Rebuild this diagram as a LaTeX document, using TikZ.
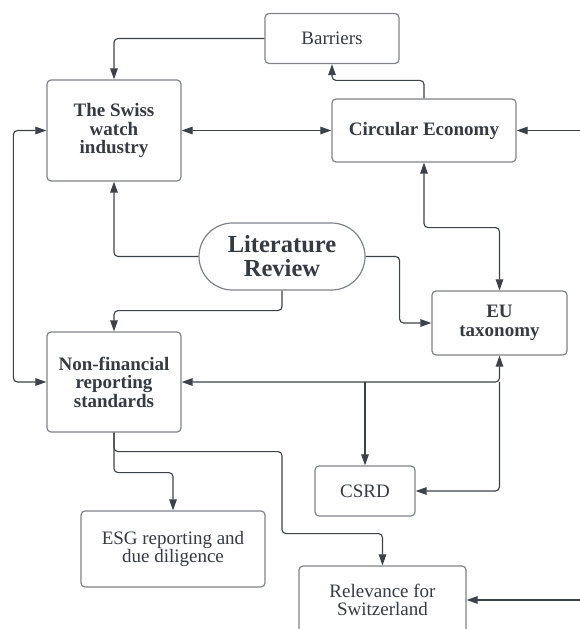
\documentclass[tikz,border=0pt]{standalone}
\usepackage{tikz}
\usetikzlibrary{arrows.meta}
\usepackage{xcolor}
\usepackage{fontspec}
\setmainfont{Liberation Serif}

\definecolor{linegray}{HTML}{3D424A}
\definecolor{boxgray}{HTML}{808389}
\definecolor{textgray}{HTML}{363A42}

\begin{document}
\begin{tikzpicture}[x=1pt, y=-1pt,
  >={Triangle[length=11pt,width=7.5pt]},
  box/.style={draw=boxgray, line width=1.2pt, rounded corners=4pt, align=center, text=textgray, inner sep=0pt},
  plainbox/.style={box, font=\fontsize{19}{18.5}\selectfont},
  boldbox/.style={box, font=\fontsize{19}{18.5}\selectfont\bfseries},
  conn/.style={draw=linegray, line width=1.1pt, rounded corners=4pt}]

\useasboundingbox (0,0) rectangle (580,629);
\clip (0,0) rectangle (580,629);

% boxes
\node[plainbox, minimum width=134pt, minimum height=50pt] (bar) at (332,38.5) {Barriers};
\node[boldbox, minimum width=134pt, minimum height=101pt] (swiss) at (114,130.5) {The Swiss\\watch\\industry};
\node[boldbox, minimum width=184pt, minimum height=63pt] (ce) at (424,130.5) {Circular Economy};

\node[box, minimum width=166pt, minimum height=67pt, rounded corners=33.5pt,
  font=\fontsize{24.5}{24}\selectfont\bfseries] (lit) at (282,256.5) {Literature\\Review};

\node[boldbox, minimum width=135pt, minimum height=64pt] (eu) at (499.5,323) {EU\\taxonomy};
\node[boldbox, minimum width=134pt, minimum height=100pt] (nfr) at (114,382) {Non-financial\\reporting\\standards};
\node[plainbox, minimum width=100pt, minimum height=50pt] (csrd) at (365,491) {CSRD};
\node[plainbox, minimum width=184pt, minimum height=76pt] (esg) at (173,549) {ESG reporting and\\due diligence};
\node[plainbox, minimum width=167pt, minimum height=68pt] (rel) at (382.5,600) {Relevance for\\Switzerland};

% loose ends at the right edge
\coordinate (ceIn) at (584,130.5);
\coordinate (relIn) at (584,600);

% connectors
\draw[conn,->] (bar.west) -| (swiss.north);
\draw[conn,->] (ce.north) -- ++(0,-18) -| (bar.south);
\draw[conn,<->] (swiss.east) -- (ce.west);
\draw[conn,->] (ceIn) -- (ce.east);
\draw[conn,<->] (swiss.west) -- ++(-33,0) |- (nfr.west);

\draw[conn,->] (lit.west) -| (swiss.south);
\draw[conn,->] (lit.south) -- ++(0,20) -| (nfr.north);
\draw[conn,->] (lit.east) -- ++(34,0) |- (eu.west);
\draw[conn,<->] (ce.south) -- ++(0,65) -| (eu.north);

\draw[conn,<->] (nfr.east) -| (eu.south);
\draw[conn,->] (nfr.east -| csrd.north) -- (csrd.north);
\draw[conn,->] (nfr.east -| eu.south) |- (csrd.east);

\draw[conn,->] (nfr.south) -- ++(0,40) -| (esg.north);
\draw[conn,->] (nfr.south) -- ++(0,19) -- ++(168,0) -- ++(0,82) -| (rel.north);
\draw[conn,->] (relIn) -- (rel.east);

\end{tikzpicture}
\end{document}
